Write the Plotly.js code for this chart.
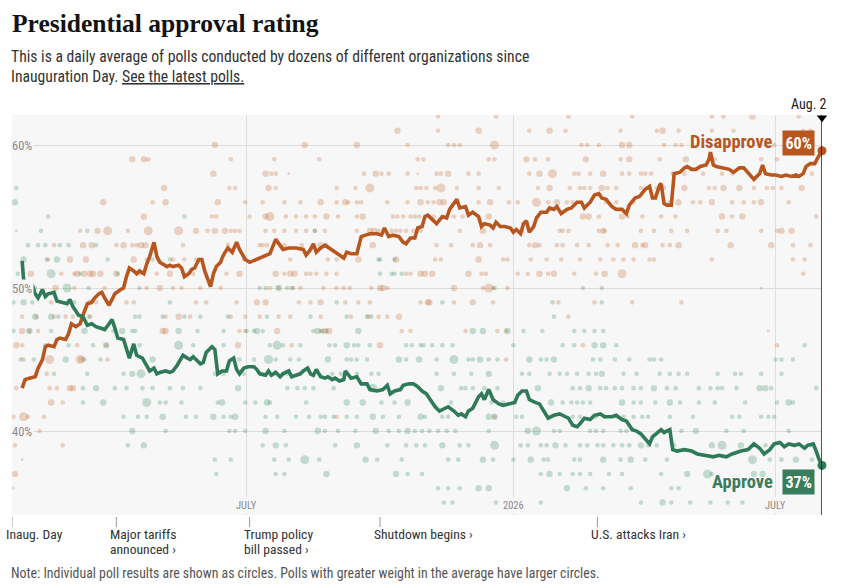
<!DOCTYPE html>
<html><head><meta charset="utf-8">
<script src="https://cdn.plot.ly/plotly-3.0.1.min.js"></script>
<style>html,body{margin:0;padding:0;background:#fff;}#chart{width:846px;height:588px;}</style>
</head><body><div id="chart"></div>
<script>
// ---------- DATA ----------
const startDate = [2025, 0, 20];      // Inauguration Day
const endDate = '2026-08-02';

// daily average, days since inauguration
const disDays = [7,9,12,16,18,21,23,25,29,31,33,37,39,41,44,47,49,52,55,57,
60,62,64,67,69,71,75,77,79,81,84,86,88,91,93,95,98,100,102,104,
107,109,111,115,117,119,122,124,126,129,131,133,136,137,139,141,144,145,147,149,
152,155,157,161,164,169,173,178,182,184,187,191,196,201,203,206,208,210,213,216,
219,223,226,229,231,234,238,241,244,247,252,255,257,260,263,267,270,272,275,278,
280,283,285,287,290,293,297,300,302,305,307,309,313,315,318,322,324,326,330,332,
334,337,340,344,346,348,351,353,355,357,360,362,365,369,371,374,376,379,383,386,
390,393,395,399,402,405,407,410,414,417,421,424,426,430,433,437,440,442,444,447,
448,450,452,455,457,461,464,466,469,472,475,479,481,482,484,486,490,495,498,502,
505,509,512,516,518,520,524,527,531,534,538,541,543,546,548,551,554,556,559];
const disPct = [43.0,43.6,43.7,43.8,44.4,45.0,45.9,46.0,45.9,46.4,46.5,46.4,46.8,47.5,47.3,47.5,48.1,48.9,49.0,49.3,
49.6,49.7,49.3,48.8,49.2,49.6,49.9,50.0,50.8,51.4,51.2,51.0,51.2,51.0,51.7,52.2,53.2,52.2,51.8,51.7,
51.5,51.6,51.5,51.6,51.4,50.8,51.0,51.3,51.4,52.0,52.0,51.2,50.3,50.1,51.0,51.5,51.8,52.1,52.5,52.8,
52.5,53.2,52.7,52.0,51.8,52.0,52.2,52.4,53.4,53.1,52.7,52.8,52.8,52.7,52.3,52.7,53.1,52.5,52.8,53.0,
52.8,52.5,52.3,52.1,52.5,52.4,52.4,53.6,53.7,53.8,53.8,53.7,54.2,53.6,53.7,53.6,53.2,53.1,53.5,53.5,
54.2,54.3,55.0,55.1,54.8,54.5,55.0,54.9,55.5,55.9,56.2,55.6,55.7,55.1,55.3,55.0,54.3,54.5,54.4,54.2,
54.6,54.3,54.3,54.2,53.9,54.1,53.8,54.5,54.7,53.9,54.3,54.9,55.3,55.3,55.6,55.5,55.7,55.2,55.5,55.6,
56.0,56.0,55.6,56.0,56.5,56.6,56.3,56.2,55.7,55.5,55.5,55.2,55.8,56.3,56.4,56.9,57.1,56.3,56.3,57.2,
57.3,55.9,55.8,55.8,58.0,58.1,58.4,58.5,58.3,58.3,58.5,58.6,59.0,59.5,58.6,58.5,58.4,58.3,58.1,58.4,
58.4,57.9,57.6,58.0,58.6,58.0,57.9,57.9,57.8,57.9,57.8,57.9,57.8,58.0,58.5,58.7,58.7,59.1,59.6];

const appDays = [7,8,10,14,16,18,21,23,25,29,31,34,38,40,42,46,49,52,55,58,
62,64,67,69,71,73,77,79,81,84,86,90,93,95,98,100,102,106,109,111,
114,116,118,121,123,125,127,130,132,134,138,140,142,145,148,150,153,155,157,160,
163,167,169,171,175,177,179,182,185,187,191,193,196,199,201,204,206,208,210,213,
216,218,221,223,226,229,230,232,234,238,241,245,247,252,256,259,261,264,268,270,
274,277,280,283,286,288,292,295,299,301,305,308,310,313,315,318,322,324,326,329,
332,336,339,343,347,349,352,355,357,361,364,367,370,374,378,382,384,387,390,392,
395,399,402,406,409,414,417,421,424,428,431,434,437,440,442,446,448,450,454,456,
459,464,469,473,479,484,488,493,497,503,508,512,516,519,523,526,530,533,536,540,
543,547,549,553,555,557,559];
const appPct = [51.9,50.6,50.3,50.2,49.6,49.3,49.9,49.4,49.6,49.7,49.1,49.0,48.9,49.2,48.7,48.1,48.0,47.4,47.5,47.3,
47.2,47.1,47.5,47.8,47.2,46.5,46.4,45.7,45.1,46.1,45.3,45.1,44.5,44.2,44.4,44.0,44.1,44.2,44.1,44.2,
44.6,44.9,45.3,45.1,45.0,45.2,45.0,44.7,44.8,45.5,45.9,45.7,44.0,44.2,44.2,44.9,45.1,44.3,44.0,44.4,
44.5,44.5,44.3,44.0,43.9,44.2,43.9,44.1,43.8,44.0,44.2,43.8,43.9,44.0,44.2,44.4,44.0,43.9,44.3,43.8,
43.7,43.8,43.6,43.7,43.5,43.6,44.2,43.9,43.7,43.8,43.3,43.3,42.9,42.8,42.9,43.2,42.6,42.8,42.9,43.2,
43.3,43.3,43.1,42.8,42.6,42.3,41.7,41.4,41.6,41.7,41.4,41.1,41.2,41.0,41.4,41.6,42.4,42.6,42.2,42.9,
42.2,41.9,41.8,41.9,42.0,42.5,42.8,42.8,42.2,42.0,41.9,41.4,40.9,41.1,41.2,41.0,40.9,40.4,40.3,40.5,
40.9,40.8,41.1,41.2,41.0,41.0,41.1,40.8,40.7,40.1,40.0,39.8,39.4,39.1,39.6,39.9,40.1,39.9,40.1,38.7,
38.6,38.7,38.6,38.4,38.3,38.2,38.3,38.2,38.4,38.6,38.7,39.1,38.8,38.4,38.7,39.1,39.2,38.9,39.1,39.0,
39.1,38.8,39.0,39.1,38.6,38.0,37.6];

// individual polls: result row (%), days since inauguration, weight class (1-4)
const disPollRows = [62,61,60,59,58,57,56,55,54,53,52,51,50,49,48,47,46,45,44,43,42,41,40,39,38,37,36];
const disPollDays = [
[294,334,384,428,483,491,511,543],
[266,294,322,357,371,382,420,445,449,460,483,498,546,551],
[140,202,238,273,301,305,309,333,393,397,405,421,426,450,458,462,521,526],
[83,91,94,151,181,212,280,284,329,333,355,361,370,396,420,426,447,465,485,517,528],
[139,175,179,182,191,243,251,255,260,273,280,293,296,301,315,322,357,364,373,388,391,399,408,421,426,434,437,441,456,464,477,490,497,552],
[105,150,154,177,182,224,237,247,279,282,286,292,296,307,322,336,363,371,385,392,395,399,407,411,417,434,445,450,464,481,485,491,502,512,521,525,531,545],
[63,97,106,142,161,173,188,199,213,224,230,232,238,241,259,273,282,287,291,295,298,322,330,343,349,362,370,376,383,387,410,417,429,454,460,470,475,483,497,505,512,517,536],
[91,138,141,164,175,178,189,196,203,209,217,225,238,242,263,266,270,275,278,281,291,305,311,329,394,398,405,421,425,435,448,458,490,497,504,555],
[47,59,66,80,94,115,127,135,140,147,151,154,157,175,181,188,196,203,209,216,238,247,250,253,262,265,268,272,277,282,309,325,352,378,380,384,405,408,409,434,443,455,466,487,493,517,528,531,538],
[29,49,55,72,77,83,86,89,92,118,149,171,173,176,188,200,213,217,249,293,303,318,323,330,357,361,364,376,380,390,398,411,418,430,435,437,449,454,460,496,524,539,551],
[25,40,51,84,93,101,111,119,127,160,192,218,224,239,265,292,296,322,339,342,358,369,379,392,406,415,422,429,440,443,483,539,547],
[13,34,43,45,50,54,56,61,72,88,100,109,125,148,157,182,188,192,195,203,206,210,217,224,272,275,282,285,290,315,324,327,349,356,364,370,374,388,403,409,421,546],
[6,30,43,64,93,102,111,117,130,144,178,184,193,199,215,224,229,233,248,254,256,259,305,325,329,332,342,517],
[27,54,58,79,84,127,134,155,169,175,198,206,213,230,239,247,282,287,288,305,318,332,377,402,428,462],
[7,17,29,37,42,54,106,115,123,151,161,171,184,192,213,234,246,253,259,267,384],
[7,12,18,104,106,157,161,183,213,216,219,269,275,313,335,341,522],
[3,7,45,65,156,193,254,394,528],
[8,26,47,48,66,341],
[17,24],
[3,26,31,40,42],
[27,35],
[1,8,11,22,224,333],
[19],
[2,35],
[7],
[2],
[1]];
const disPollWts = [
[2,2,2,2,2,2,3,2],
[3,2,3,2,3,2,2,2,3,2,2,2,2,2],
[3,3,3,2,2,2,2,4,2,2,2,3,3,2,2,2,2,2],
[3,3,2,2,2,2,2,2,2,2,3,2,2,3,2,3,2,3,2,2,2],
[3,3,2,2,1,2,3,2,2,2,1,2,2,3,2,2,2,3,4,2,2,2,3,2,2,2,2,2,2,2,2,2,2,2],
[3,2,2,3,2,2,2,4,2,2,2,2,4,2,2,2,2,3,2,2,2,2,3,2,2,2,2,2,3,2,2,3,3,2,2,2,2,3],
[3,2,3,3,2,2,2,2,3,2,3,2,2,2,2,2,3,2,2,3,3,2,3,2,2,4,2,3,2,2,2,2,2,2,3,2,2,3,2,2,2,3,2],
[3,2,2,2,3,4,2,2,2,2,3,2,2,3,2,2,2,2,2,2,2,2,2,3,3,3,2,3,2,2,2,2,3,2,3,2],
[2,3,4,2,4,4,3,2,3,3,2,2,2,2,2,2,2,2,2,2,2,3,3,2,2,2,2,2,2,2,2,3,2,2,2,2,2,3,2,2,2,2,2,2,2,2,2,3,3],
[2,3,3,2,3,2,2,3,3,2,2,2,2,2,2,2,3,2,3,2,2,2,3,2,2,3,2,2,2,2,2,2,2,3,2,3,2,2,3,3,3,2,2],
[2,3,3,3,2,2,2,2,2,2,2,2,2,3,3,2,2,3,2,2,2,2,2,2,2,2,2,2,2,2,2,2,2],
[3,2,2,3,3,3,3,3,3,2,2,3,2,2,3,3,2,3,3,2,2,2,2,2,2,2,3,3,3,3,2,2,2,2,3,2,3,2,2,3,4,2],
[2,3,2,2,2,3,2,2,2,2,2,2,2,2,2,2,2,2,2,3,3,2,3,2,4,2,2,1],
[2,3,2,2,2,2,2,2,3,3,2,2,3,2,2,2,2,3,3,2,3,2,2,2,2,2],
[2,2,2,2,2,2,2,3,2,2,2,2,2,2,2,2,2,2,2,3,2],
[3,2,2,3,3,2,2,3,2,3,3,2,2,2,2,2,1],
[3,2,2,2,3,2,3,2,2],
[2,4,4,3,2,2],
[2,2],
[2,2,2,3,3],
[3,2],
[2,4,2,2,2,2],
[2],
[2,2],
[1],
[3],
[1]];

const appPollRows = [57,56,55,54,53,52,51,50,49,48,47,46,45,44,43,42,41,40,39,38,37,36,35];
const appPollDays = [
[3],
[2],
[25,119],
[3,20,52,209],
[11,18,23,33,39,58],
[8,24,31,66,97,109,253,254,264],
[4,27,47,73,254,262,264,269],
[16,38,53,88,171,175,184,190,194,333,394,407],
[1,8,14,39,43,109,224,297,373,407],
[16,27,32,53,85,88,104,119,130,149,176,206,231,245,248,374],
[1,12,27,50,70,76,83,85,115,128,146,162,167,169,173,208,211,214,217,239,318,325,342,353,366,388,395,402,408],
[23,39,56,65,88,115,125,146,178,183,187,199,219,223,231,236,239,247,272,276,282,284,290,297,304,346,380,388,402,408,417,547],
[6,15,37,50,61,97,157,167,177,182,192,198,218,231,234,238,245,267,272,281,293,305,315,318,323,329,335,357,365,369,374,401,406,416,426,440,443,448,527,531,539],
[29,52,77,83,89,140,146,160,173,187,190,198,221,227,231,238,248,253,293,305,317,329,352,357,371,378,383,390,398,403,407,422,431,447,454,460,466,487,499,503,517,531],
[49,58,71,79,90,97,109,118,130,156,190,197,202,208,222,249,296,310,313,318,326,335,363,387,392,398,406,410,416,421,429,434,443,452,458,474,482,487,490,500,516,520,524,555],
[49,63,93,102,106,117,142,145,161,168,176,178,203,231,242,255,264,273,303,331,339,372,380,386,390,394,399,421,429,434,444,454,461,474,485,506,528,536,539],
[77,87,93,104,120,127,139,146,151,154,175,183,196,205,213,216,222,231,238,249,256,267,282,285,297,301,329,333,348,352,387,392,403,409,417,422,429,435,439,454,470,497,502,517,522,526],
[83,106,150,154,161,175,188,211,216,225,237,251,260,267,273,278,283,288,294,300,306,329,356,362,374,378,399,403,408,420,424,462,472,493,505,536],
[80,91,173,182,189,223,238,259,272,279,285,297,309,315,333,351,356,365,369,375,382,392,397,404,408,415,421,426,434,439,445,457,483,490,503,512,520,540,551],
[140,151,181,191,202,212,244,252,269,301,308,325,332,346,358,367,370,388,392,408,420,427,437,452,511,523,531,541,552],
[141,182,188,217,265,273,283,365,371,378,387,392,399,412,421,448,466,480,483,512,518],
[294,301,309,322,329,383,396,408,427,455,460,498,544],
[298,304,334,365,434,449,455,468,482,494,504]];
const appPollWts = [
[2],
[3],
[2,2],
[1,2,2,2],
[2,2,2,2,2,2],
[3,2,3,2,2,2,2,2,2],
[2,4,2,2,2,2,2,2],
[2,4,2,2,2,2,3,2,2,2,2,2],
[2,3,2,2,2,2,2,2,2,2],
[3,3,2,2,2,2,2,2,2,2,2,2,2,2,2,2],
[2,3,2,3,2,3,2,2,3,2,2,2,2,3,2,2,3,2,2,3,3,3,3,2,2,2,2,2,2],
[2,2,2,3,2,4,2,2,2,4,2,2,2,2,3,2,2,2,2,2,2,2,2,2,2,2,2,2,3,3,2,2],
[2,2,3,2,2,3,2,2,4,2,2,2,3,2,2,2,2,3,2,3,2,4,2,2,3,2,2,3,2,2,3,2,2,2,2,2,2,2,2,2,2],
[2,2,2,3,4,2,2,2,2,2,2,2,2,2,2,2,2,2,2,2,2,3,2,2,2,2,2,2,2,2,3,2,2,2,2,2,2,2,2,2,2,2],
[2,3,2,2,2,2,2,2,2,3,2,2,2,2,2,4,3,2,2,2,2,2,3,2,2,3,2,2,2,2,2,2,3,2,2,2,2,2,2,2,3,3,2,2],
[2,3,4,2,2,2,2,3,2,2,3,2,2,3,3,2,2,3,2,2,2,3,2,2,2,2,2,3,2,2,2,3,2,2,2,2,2,3,2],
[2,2,2,3,2,2,3,2,2,3,2,2,2,2,2,2,2,2,2,3,2,2,3,2,2,2,3,3,2,2,2,2,2,2,2,2,2,2,2,2,2,2,2,2,2,2],
[3,2,2,2,2,3,2,3,2,2,2,3,2,2,3,2,2,2,2,2,2,2,3,4,2,2,2,2,2,2,2,2,3,2,2,2],
[2,3,2,3,2,2,3,2,2,2,2,3,2,2,4,2,2,2,2,3,2,2,2,2,2,2,2,2,3,2,2,2,3,4,3,2,2,2,2],
[2,2,2,2,4,2,3,2,2,2,2,3,2,2,3,2,2,2,2,3,2,3,2,2,4,2,2,3,2],
[2,2,2,3,3,2,2,2,3,2,2,2,2,2,2,2,3,4,2,3,3],
[2,2,2,3,3,3,2,2,2,2,2,2,2],
[2,2,2,2,2,3,2,2,2,2,2]];

// axis / annotation labels
const gridDates = ['2025-07-01','2026-01-01','2026-07-01'];
const gridLabels = ['JULY','2026','JULY'];
const yTicks = [40,50,60];
const eventDays = [0,72,164,254,404];
const eventLabels = ['Inaug. Day','Major tariffs|announced ›','Trump policy|bill passed ›','Shutdown begins ›','U.S. attacks Iran ›'];
const seriesNames = ['Disapprove','Approve'];
const endLabels = ['60%','37%'];

// ---------- STYLE ----------
const ORANGE = '#b8561f', GREEN = '#2f7a58', GREEN_BOX = '#3a7d5d';
const SANS = "'Liberation Sans Narrow','Arial Narrow','Roboto Condensed',Roboto,sans-serif";
const SERIF = "'Liberation Serif','DejaVu Serif',serif";
const PLOT_H = 400, PLOT_W = 810, PLOT_TOP = 115;
const py = px => (PLOT_TOP + PLOT_H - px) / PLOT_H;   // page pixel y -> paper y
const pxX = px => (px - 12) / PLOT_W;

function toDate(d) {
  const t = Date.UTC(startDate[0], startDate[1], startDate[2]) + d * 86400000;
  return new Date(t).toISOString().slice(0, 10);
}
const wSize = w => [0, 2.8, 4.6, 6.4, 9][w];

function pollTrace(rows, days, wts, color) {
  const x = [], y = [], s = [];
  rows.forEach((r, i) => days[i].forEach((d, j) => {
    x.push(toDate(d)); y.push(r); s.push(wSize(wts[i][j] || 2));
  }));
  return {type:'scatter', mode:'markers', x, y, hoverinfo:'skip',
    marker:{size:s, color, line:{width:0}}};
}

const traces = [
  pollTrace(disPollRows, disPollDays, disPollWts, 'rgba(200,112,58,0.42)'),
  pollTrace(appPollRows, appPollDays, appPollWts, 'rgba(58,140,100,0.40)'),
  {type:'scatter', mode:'lines', x:disDays.map(toDate), y:disPct,
   line:{color:ORANGE, width:3.6}, hoverinfo:'skip'},
  {type:'scatter', mode:'lines', x:appDays.map(toDate), y:appPct,
   line:{color:GREEN, width:3.6}, hoverinfo:'skip'},
  {type:'scatter', mode:'markers', x:[toDate(disDays[disDays.length-1]), toDate(appDays[appDays.length-1])],
   y:[disPct[disPct.length-1], appPct[appPct.length-1]],
   marker:{size:9, color:[ORANGE, GREEN]}, cliponaxis:false, hoverinfo:'skip'},
  {type:'scatter', mode:'markers', x:[endDate], y:[61.9],
   marker:{symbol:'triangle-down', size:9, color:'#000'}, cliponaxis:false, hoverinfo:'skip'}
];

const annotations = [];
yTicks.forEach(v => annotations.push({xref:'paper', x:0, xanchor:'left', xshift:-2, yref:'y', y:v, yanchor:'middle',
  text:v+'%', showarrow:false, font:{family:SANS, size:12.5, color:'#8a8a8a'}, bgcolor:'#f7f7f7', borderpad:1}));
gridDates.forEach((d, i) => annotations.push({xref:'x', x:d, yref:'paper', y:0, yanchor:'bottom', yshift:1,
  text:gridLabels[i], showarrow:false, font:{family:SANS, size:10.5, color:'#8a8a8a'}, bgcolor:'#f7f7f7', borderpad:1}));
eventDays.forEach((d, i) => eventLabels[i].split('|').forEach((line, k) =>
  annotations.push({xref:'x', x:toDate(d), xanchor:'left', xshift:-7, yref:'paper', y:py(534 + 15*k), yanchor:'middle',
    text:line, showarrow:false, font:{family:SANS, size:13.6, color:'#333'}, borderpad:0})));
// end-of-series labels
const endD = new Date(endDate + 'T00:00:00Z');
const mon = ['Jan.','Feb.','March','April','May','June','July','Aug.','Sept.','Oct.','Nov.','Dec.'][endD.getUTCMonth()];
annotations.push({xref:'paper', x:1, xanchor:'right', xshift:7, yref:'paper', y:py(104), yanchor:'middle',
  text:mon + ' ' + endD.getUTCDate(), showarrow:false, font:{family:SANS, size:14, color:'#222'}});
annotations.push({xref:'paper', x:pxX(775), xanchor:'right', yref:'paper', y:py(142), yanchor:'middle',
  text:'<b>'+seriesNames[0]+'</b>', showarrow:false, font:{family:SANS, size:18.5, color:ORANGE}});
annotations.push({xref:'paper', x:pxX(798.5), xanchor:'center', yref:'paper', y:py(142.5), yanchor:'middle',
  text:'<b>'+endLabels[0]+'</b>', showarrow:false, font:{family:SANS, size:16, color:'#fff'}, bgcolor:ORANGE, borderpad:2.5});
annotations.push({xref:'paper', x:pxX(775), xanchor:'right', yref:'paper', y:py(482), yanchor:'middle',
  text:'<b>'+seriesNames[1]+'</b>', showarrow:false, font:{family:SANS, size:18.5, color:GREEN_BOX}});
annotations.push({xref:'paper', x:pxX(798), xanchor:'center', yref:'paper', y:py(482), yanchor:'middle',
  text:'<b>'+endLabels[1]+'</b>', showarrow:false, font:{family:SANS, size:16, color:'#fff'}, bgcolor:GREEN_BOX, borderpad:2.5});
// subtitle + note
annotations.push({xref:'paper', x:0, xanchor:'left', xshift:-3, yref:'paper', y:py(57), yanchor:'middle', showarrow:false,
  text:'This is a daily average of polls conducted by dozens of different organizations since',
  font:{family:SANS, size:15.7, color:'#333'}});
annotations.push({xref:'paper', x:0, xanchor:'left', xshift:-3, yref:'paper', y:py(76), yanchor:'middle', showarrow:false,
  text:'Inauguration Day. <span style="text-decoration:underline">See the latest polls.</span>',
  font:{family:SANS, size:15.7, color:'#333'}});
annotations.push({xref:'paper', x:0, xanchor:'left', xshift:-3, yref:'paper', y:py(573), yanchor:'middle', showarrow:false,
  text:'Note: Individual poll results are shown as circles. Polls with greater weight in the average have larger circles.',
  font:{family:SANS, size:13.8, color:'#555'}});

const shapes = [
  {type:'line', xref:'x', x0:endDate, x1:endDate, yref:'paper', y0:0, y1:1, line:{color:'#000', width:1.3}}
];
eventDays.forEach(d => shapes.push({type:'line', xref:'x', x0:toDate(d), x1:toDate(d), yref:'paper',
  y0:py(517), y1:py(527), line:{color:'#999', width:1}}));

const layout = {
  width:846, height:588,
  margin:{l:12, r:24, t:115, b:73},
  paper_bgcolor:'#ffffff', plot_bgcolor:'#f7f7f7',
  showlegend:false,
  title:{text:'<b>Presidential approval rating</b>', xref:'container', x:12/846, xanchor:'left',
    yref:'container', y:1 - 23/588, yanchor:'middle', font:{family:SERIF, size:25.5, color:'#121212'}},
  xaxis:{type:'date', range:[toDate(0), endDate], tickvals:gridDates, showticklabels:false, ticks:'',
    showgrid:true, gridcolor:'#dedede', gridwidth:1, zeroline:false, showline:false, fixedrange:true},
  yaxis:{range:[34.13, 62.1], tickvals:yTicks, showticklabels:false, ticks:'',
    showgrid:true, gridcolor:'#dcdcdc', gridwidth:1, zeroline:false, showline:false, fixedrange:true},
  annotations, shapes
};
Plotly.newPlot('chart', traces, layout, {displayModeBar:false, staticPlot:true});
</script></body></html>
